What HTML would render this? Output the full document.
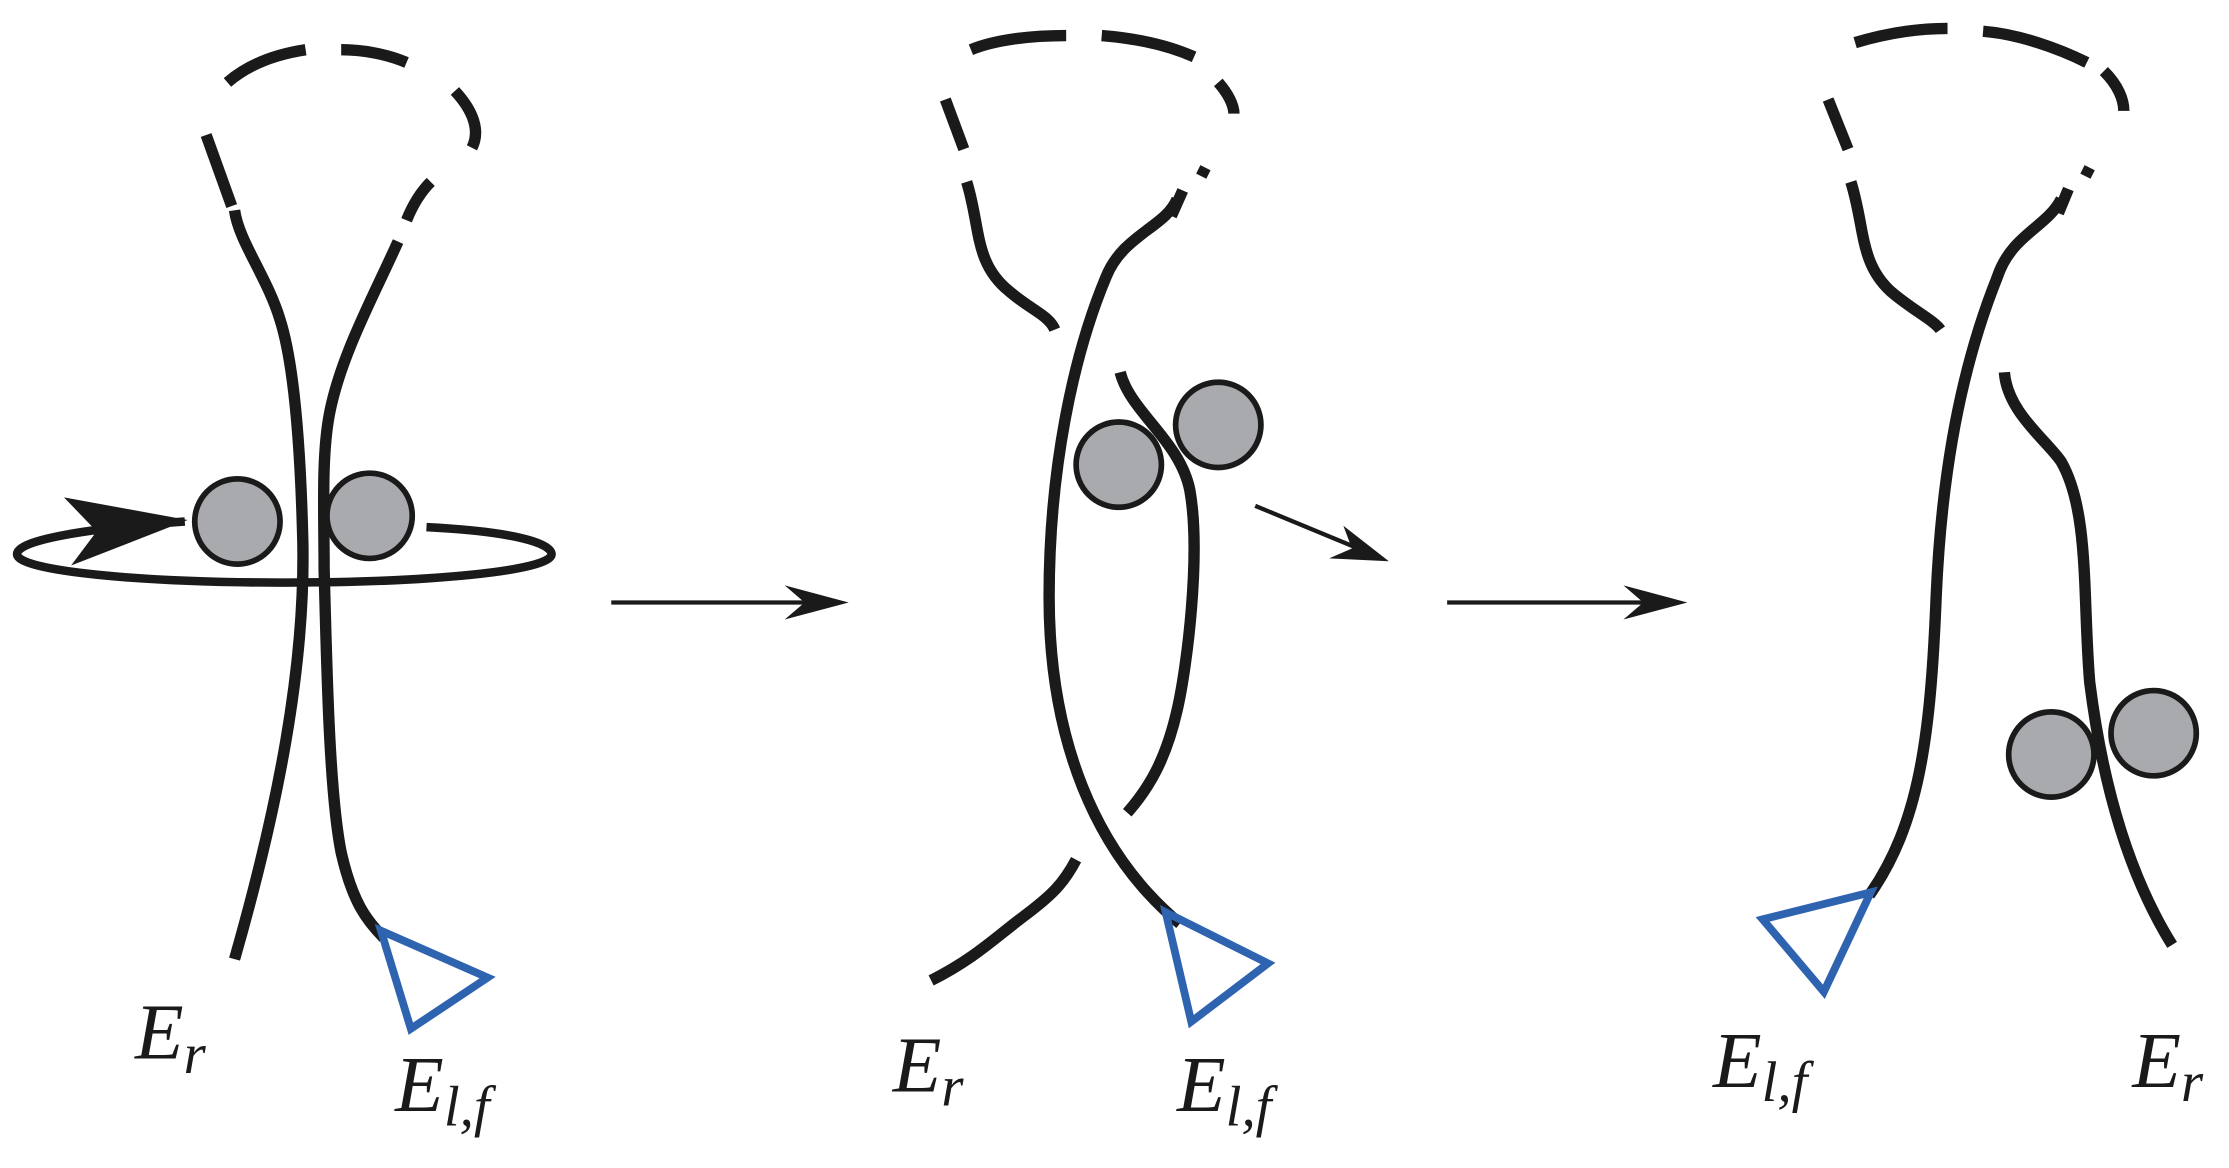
<!DOCTYPE html>
<html><head><meta charset="utf-8"><style>html,body{margin:0;padding:0;background:#fff}svg{display:block}</style></head>
<body>
<svg width="2229" height="1168" viewBox="0 0 1568 822" preserveAspectRatio="none" xmlns="http://www.w3.org/2000/svg">
<g fill="none" stroke="#1a1a1a" stroke-width="8" stroke-linecap="butt">
<!-- Panel 1 -->
<path d="M165,675 C195,570 215,470 213,380 C211,300 205,250 197,225 C188,195 168,170 165,148"/>
<path d="M163,145 L145,95"/>
<path d="M160,58 C175,45 195,38 215,35"/>
<path d="M240,35 C255,35 272,38 286,44"/>
<path d="M320,64 C333,78 338,92 332,104"/>
<path d="M303,128 C295,136 290,145 286,155"/>
<path d="M280,170 C262,210 240,250 232,290 C226,320 228,360 228,400 C230,480 232,560 240,600 C248,635 258,648 270,660"/>
<path d="M300,371 C360,374 388,382 388,390 C388,402 300,410 200,410 C100,410 12,402 12,390 C12,380 60,372 130,367" stroke-width="6"/>
<!-- Panel 2 -->
<path d="M678,105 L665,70"/>
<path d="M683,35 C700,28 725,25 750,25"/>
<path d="M775,25 C800,27 822,32 840,40"/>
<path d="M857,58 C864,66 868,74 868,80"/>
<path d="M848,118 L845,124"/>
<path d="M832,134 L824,152"/>
<path d="M680,128 C690,160 685,185 710,205 C725,218 738,222 742,232"/>
<path d="M828,140 C820,160 790,165 778,195 C755,250 738,330 738,420 C738,520 770,600 830,650"/>
<path d="M788,262 C795,290 830,310 837,345 C845,390 835,470 828,500 C820,535 808,555 793,572"/>
<path d="M655,690 C685,675 700,660 720,645 C740,630 748,622 757,605"/>
<!-- Panel 3 -->
<path d="M1300,105 L1286,70"/>
<path d="M1305,30 C1325,24 1348,20 1370,20"/>
<path d="M1395,22 C1420,24 1448,34 1468,44"/>
<path d="M1480,50 C1490,60 1494,70 1494,78"/>
<path d="M1470,118 L1467,124"/>
<path d="M1455,133 L1448,150"/>
<path d="M1302,128 C1312,160 1308,185 1330,205 C1345,218 1360,225 1365,232"/>
<path d="M1450,140 C1440,160 1415,165 1405,195 C1375,270 1365,350 1362,420 C1358,520 1350,580 1315,630"/>
<path d="M1410,262 C1412,290 1440,310 1450,325 C1470,360 1465,420 1470,480 C1480,560 1500,620 1528,665"/>
</g>
<g stroke="#1a1a1a" stroke-width="3" fill="#1a1a1a">
<line x1="430" y1="424" x2="590" y2="424"/>
<path d="M597,424 L552,412 L566,424 L552,436 Z" stroke="none"/>
<line x1="1018" y1="424" x2="1180" y2="424"/>
<path d="M1187,424 L1142,412 L1156,424 L1142,436 Z" stroke="none"/>
<line x1="883" y1="356" x2="970" y2="392"/>
<path d="M977,395 L945,370 L951,386 L935,393 Z" stroke="none"/>
</g>
<path d="M132,366 L45,350 L68,374 L50,398 Z" fill="#1a1a1a"/>
<g fill="#a9aaad" stroke="#1a1a1a" stroke-width="4">
<circle cx="167" cy="367" r="30"/><circle cx="260" cy="363" r="30"/>
<circle cx="787" cy="327" r="30"/><circle cx="857" cy="299" r="30"/>
<circle cx="1443" cy="531" r="30"/><circle cx="1515" cy="516" r="30"/>
</g>
<g fill="none" stroke="#2e63b0" stroke-width="5.5" stroke-linejoin="miter">
<polygon points="268,655 343,688 289,724"/>
<polygon points="820,642 892,678 838,719"/>
<polygon points="1240,647 1316,628 1283,698"/>
</g>
<g font-family="Liberation Serif, serif" font-style="italic" fill="#1a1a1a" font-size="56">
<text x="95" y="745">E<tspan font-size="40" dy="10">r</tspan></text>
<text x="278" y="782">E<tspan font-size="40" dy="10">l,f</tspan></text>
<text x="628" y="768">E<tspan font-size="40" dy="10">r</tspan></text>
<text x="828" y="782">E<tspan font-size="40" dy="10">l,f</tspan></text>
<text x="1205" y="765">E<tspan font-size="40" dy="10">l,f</tspan></text>
<text x="1500" y="765">E<tspan font-size="40" dy="10">r</tspan></text>
</g>
</svg>
</body></html>
